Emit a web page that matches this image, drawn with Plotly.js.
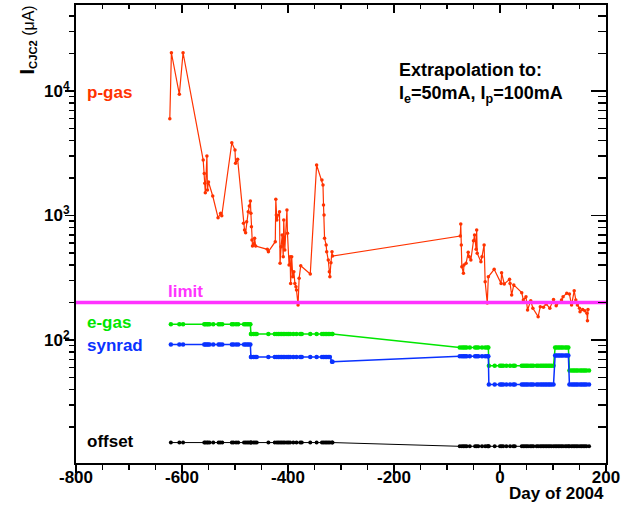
<!DOCTYPE html>
<html>
<head>
<meta charset="utf-8">
<script src="https://cdn.plot.ly/plotly-3.0.1.min.js"></script>
<style>html,body{margin:0;padding:0;background:#fff;}#chart{width:631px;height:506px;}</style>
</head>
<body>
<div id="chart"></div>
<script>
// ---- data ----
const pgasDays = [-623,-620,-605,-598,-560,-558,-557,-556,-553,-552,-550,-542,-532,-527,-525,-506,-500,-499,-495,
  -484,-482,-480,-478,-475,-473,-471,-470,-469,-468,-467,-465,-463,-461,-439,-437,
  -424,-423,-422,-421,-416,-415,-413,-411,-409,-408,-406,-402,-401,-398,-396,-395,-393,-391,-389,-387,-385,-384,-381,-379,-376,
  -358,-346,-336,-334,-333,-332,-331,-328,-327,-324,-322,-321,-319,-317,-316,
  -75,-74,-73,-72,-69,-68,-64,-60,-58,-55,-50,-48,-45,-44,-43,-36,-34,-30,-28,-24,-22,-11,
  2,3,8,18,19,22,26,
  41,44,49,52,58,62,72,76,82,87,94,101,106,116,119,126,131,135,140,143,146,150,151,156,160,164,165,166];
const pgasValues = [6000,20300,9400,20300,2790,2180,1815,1525,3005,1603,1858,1434,960,1042,996,3843,3358,2626,2828,
  865,765,728,892,1073,1192,1308,1042,813,636,569,590,656,569,535,512,
  616,1349,1009,920,1073,413,562,697,467,920,528,1107,719,400,467,285,467,322,354,285,268,252,191,313,395,
  339,2544,1928,1758,1214,1009,656,580,512,439,354,322,418,512,473,
  684,855,580,388,343,400,413,506,467,439,627,697,535,765,497,426,467,580,294,198,322,370,
  285,347,282,307,285,230,277,
  240,210,223,174,207,180,154,185,183,195,180,212,188,210,223,237,234,191,249,210,191,180,169,176,172,164,143,176];

const compDays = [-621,-605,-598,-558,-556,-553,-551,-548,-541,-531,-528,-524,-506,-503,-498,-494,-483,-480,-477,-474,-471,
  -470,-469,-465,-462,-459,-437,-425,-421,-418,-415,-412,-409,-406,-402,-399,-396,-390,-384,-377,-374,-358,-346,-336,-333,-330,-327,-324,-321,-317,-316,
  -76,-72,-69,-66,-63,-57,-47,-44,-41,-34,-28,-24,-22,
  -21,-10,0,3,6,12,19,25,28,41,44,47,50,53,57,60,63,69,72,76,79,82,85,88,91,94,97,101,
  104,107,110,113,116,119,123,126,129,
  131,135,138,141,144,147,151,154,157,160,163,168];
const egasValues = [134,134,134,134,134,134,134,134,134,134,134,134,134,134,134,134,134,134,134,134,134,
  112,112,112,112,112,112,112,112,112,112,112,112,112,112,112,112,112,112,112,112,112,112,112,112,112,112,112,112,112,112,
  87,87,87,87,87,87,87,87,87,87,87,87,87,
  62,62,62,62,62,62,62,62,62,62,62,62,62,62,62,62,62,62,62,62,62,62,62,62,62,62,62,62,
  87,87,87,87,87,87,87,87,87,
  57,57,57,57,57,57,57,57,57,57,57,57];
const synradValues = [92,92,92,92,92,92,92,92,92,92,92,92,92,92,92,92,92,92,92,92,92,
  73,73,73,73,73,73,73,73,73,73,73,73,73,73,73,73,73,73,73,73,73,73,73,73,73,73,73,73,67,67,
  74,74,74,74,74,74,74,74,74,74,74,74,74,
  44,44,44,44,44,44,44,44,44,44,44,44,44,44,44,44,44,44,44,44,44,44,44,44,44,44,44,44,
  75,75,75,75,75,75,75,75,75,
  44,44,44,44,44,44,44,44,44,44,44,44];
const offsetValues = [15,15,15,15,15,15,15,15,15,15,15,15,15,15,15,15,15,15,15,15,15,
  15,15,15,15,15,15,15,15,15,15,15,15,15,15,15,15,15,15,15,15,15,15,15,15,15,15,15,15,15,15,
  14,14,14,14,14,14,14,14,14,14,14,14,14,
  14,14,14,14,14,14,14,14,14,14,14,14,14,14,14,14,14,14,14,14,14,14,14,14,14,14,14,14,
  14,14,14,14,14,14,14,14,14,
  14,14,14,14,14,14,14,14,14,14,14,14];
const limitValue = 200;

const xRange = [-800, 200];
const xTickVals = [-800, -600, -400, -200, 0, 200];
const xTickText = ['-800', '-600', '-400', '-200', '0', '200'];
const yRangeLog = [1.012, 4.691];
const yTickVals = [10, 100, 1000, 10000];
const yTickText = ['10<sup>1</sup>', '10<sup>2</sup>', '10<sup>3</sup>', '10<sup>4</sup>'];
const yMinorVals = [20,30,40,50,60,70,80,90,200,300,400,500,600,700,800,900,2000,3000,4000,5000,6000,7000,8000,9000,20000,30000,40000];

// ---- style ----
const FONT = 'Liberation Sans, Arial, Helvetica, sans-serif';
const RED = '#ff3300', GREEN = '#00e600', BLUE = '#0a32ff', MAG = '#ff33ff', BLACK = '#000000';

const traces = [
  {x: pgasDays, y: pgasValues, type: 'scatter', mode: 'lines+markers',
   line: {color: RED, width: 1.2}, marker: {color: RED, size: 3.5}},
  {x: xRange, y: [limitValue, limitValue], type: 'scatter', mode: 'lines',
   line: {color: MAG, width: 3.5}},
  {x: compDays, y: egasValues, type: 'scatter', mode: 'lines+markers',
   line: {color: GREEN, width: 1.5}, marker: {color: GREEN, size: 4.5}},
  {x: compDays, y: synradValues, type: 'scatter', mode: 'lines+markers',
   line: {color: BLUE, width: 1.5}, marker: {color: BLUE, size: 4.5}},
  {x: compDays, y: offsetValues, type: 'scatter', mode: 'lines+markers',
   line: {color: BLACK, width: 1}, marker: {color: BLACK, size: 4}},
  {x: [], y: [], type: 'scatter', xaxis: 'x2', yaxis: 'y2', hoverinfo: 'skip'}
];

const tickFont = {family: FONT, size: 17, weight: 'bold', color: '#000'};

const layout = {
  width: 631, height: 506,
  margin: {l: 76, r: 25, t: 5, b: 43},
  paper_bgcolor: '#fff', plot_bgcolor: '#fff',
  showlegend: false,
  font: {family: FONT, color: '#000'},
  xaxis: {
    range: xRange, autorange: false, tickmode: 'array', tickvals: xTickVals, ticktext: xTickText,
    ticks: 'outside', ticklen: 8, tickwidth: 1.5, tickcolor: '#000',
    showline: true, linewidth: 2, linecolor: '#000', showgrid: false, zeroline: false,
    tickfont: tickFont, ticklabelstandoff: -10,
    minor: {tick0: -800, dtick: 50, ticks: 'outside', ticklen: 5, tickwidth: 1.5, tickcolor: '#000', showgrid: false}
  },
  xaxis2: {
    overlaying: 'x', side: 'top', anchor: 'y2',
    range: xRange, autorange: false, tickmode: 'array', tickvals: xTickVals,
    ticks: 'inside', ticklen: 8, tickwidth: 1.5, tickcolor: '#000', showticklabels: false,
    showline: true, linewidth: 2, linecolor: '#000', showgrid: false, zeroline: false,
    minor: {tick0: -800, dtick: 50, ticks: 'inside', ticklen: 4, tickwidth: 1.5, tickcolor: '#000', showgrid: false}
  },
  yaxis: {
    type: 'log', range: yRangeLog, autorange: false,
    tickmode: 'array', tickvals: yTickVals, ticktext: yTickText,
    ticks: 'outside', ticklen: 9, tickwidth: 1.5, tickcolor: '#000',
    showline: true, linewidth: 2, linecolor: '#000', showgrid: false, zeroline: false,
    tickfont: tickFont, ticklabelstandoff: -8,
    minor: {tickmode: 'array', tickvals: yMinorVals, ticks: 'outside', ticklen: 5, tickwidth: 1.5, tickcolor: '#000', showgrid: false}
  },
  yaxis2: {
    type: 'log', overlaying: 'y', side: 'right', anchor: 'x2',
    range: yRangeLog, autorange: false,
    tickmode: 'array', tickvals: yTickVals,
    ticks: 'inside', ticklen: 15, tickwidth: 1.5, tickcolor: '#000', showticklabels: false,
    showline: true, linewidth: 2, linecolor: '#000', showgrid: false, zeroline: false,
    minor: {tickmode: 'array', tickvals: yMinorVals, ticks: 'inside', ticklen: 8, tickwidth: 1.5, tickcolor: '#000', showgrid: false}
  },
  annotations: [
    {text: '<b><span style="font-size:21px">I</span><sub>CJC2</sub></b> (μA)', textangle: -90, xref: 'paper', yref: 'paper',
     x: -0.094, y: 1.002, xanchor: 'center', yanchor: 'top', showarrow: false,
     font: {family: FONT, size: 16, color: '#000'}},
    {text: 'Day of 2004', xref: 'paper', yref: 'paper', x: 1.0, y: -0.067, xanchor: 'right', yanchor: 'middle',
     showarrow: false, font: {family: FONT, size: 17, weight: 'bold', color: '#000'}},
    {text: 'p-gas', xref: 'paper', yref: 'paper', x: 0.017, y: 0.808, xanchor: 'left', yanchor: 'middle',
     showarrow: false, font: {family: FONT, size: 17, weight: 'bold', color: RED}},
    {text: 'limit', xref: 'paper', yref: 'paper', x: 0.1698, y: 0.3734, xanchor: 'left', yanchor: 'middle',
     showarrow: false, font: {family: FONT, size: 17, weight: 'bold', color: MAG}},
    {text: 'e-gas', xref: 'paper', yref: 'paper', x: 0.017, y: 0.3057, xanchor: 'left', yanchor: 'middle',
     showarrow: false, font: {family: FONT, size: 17, weight: 'bold', color: GREEN}},
    {text: 'synrad', xref: 'paper', yref: 'paper', x: 0.017, y: 0.2555, xanchor: 'left', yanchor: 'middle',
     showarrow: false, font: {family: FONT, size: 17, weight: 'bold', color: BLUE}},
    {text: 'offset', xref: 'paper', yref: 'paper', x: 0.017, y: 0.0459, xanchor: 'left', yanchor: 'middle',
     showarrow: false, font: {family: FONT, size: 17, weight: 'bold', color: BLACK}},
    {text: 'Extrapolation to:', xref: 'paper', yref: 'paper', x: 0.6057, y: 0.858, xanchor: 'left', yanchor: 'middle',
     showarrow: false, font: {family: FONT, size: 18, weight: 'bold', color: '#000'}},
    {text: 'I<sub>e</sub>=50mA, I<sub>p</sub>=100mA', xref: 'paper', yref: 'paper', x: 0.6057, y: 0.8035, xanchor: 'left', yanchor: 'middle',
     showarrow: false, font: {family: FONT, size: 18, weight: 'bold', color: '#000'}}
  ]
};

Plotly.newPlot('chart', traces, layout, {staticPlot: true, displayModeBar: false});
</script>
</body>
</html>
